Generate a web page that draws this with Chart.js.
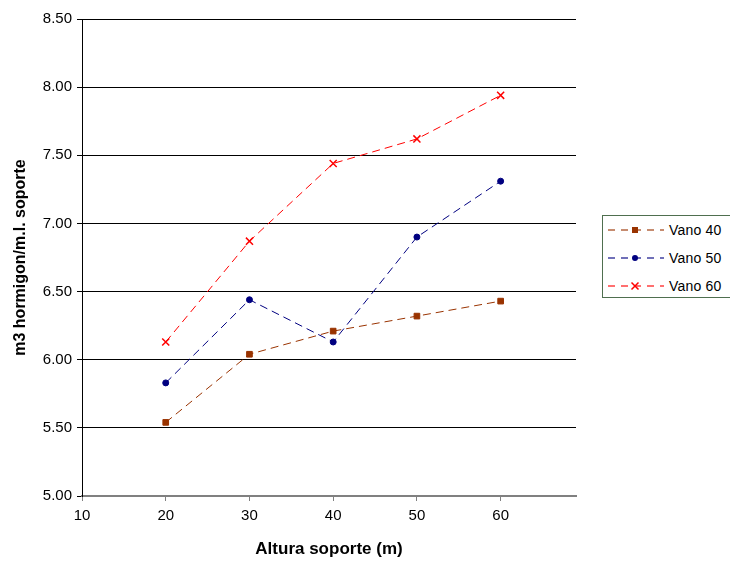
<!DOCTYPE html>
<html>
<head>
<meta charset="utf-8">
<script src="https://cdn.jsdelivr.net/npm/chart.js@4"></script>
<style>
  html, body { margin: 0; padding: 0; background: #ffffff; }
  #wrap { position: relative; width: 730px; height: 563px; overflow: hidden; }
  #legend { position: absolute; left: 602px; top: 215px; width: 140px; height: 83px;
            border: 1px solid #4f6f4f; background: #fff; box-sizing: border-box;
            font-family: "Liberation Sans", Arial, sans-serif; font-size: 14px; color: #000; }
  .row { position: absolute; left: 5px; height: 20px; display: flex; align-items: center; }
  .row svg { display: block; }
  .row span { margin-left: 5px; letter-spacing: 0.2px; }
</style>
</head>
<body>
<div id="wrap">
  <canvas id="c" width="730" height="563"></canvas>
  <div id="legend"></div>
</div>
<script>
const alturas = [20, 30, 40, 50, 60];
const vano40 = [5.54, 6.04, 6.21, 6.32, 6.43];
const vano50 = [5.83, 6.44, 6.13, 6.90, 7.31];
const vano60 = [6.13, 6.87, 7.44, 7.62, 7.94];
const seriesNames = ['Vano 40', 'Vano 50', 'Vano 60'];
const xTickValues = [10, 20, 30, 40, 50, 60];
const yTickValues = [5.0, 5.5, 6.0, 6.5, 7.0, 7.5, 8.0, 8.5];

const toPts = arr => alturas.map((x, i) => ({ x: x, y: arr[i] }));

const styles = [
  { line: '#993300', point: '#993300', shape: 'rect', r: 4 },
  { line: '#000080', point: '#000080', shape: 'circle', r: 3 },
  { line: '#FF0000', point: '#FF0000', shape: 'crossRot', r: 5 }
];
const allData = [vano40, vano50, vano60];

const datasets = allData.map((d, i) => ({
  label: seriesNames[i],
  data: toPts(d),
  borderColor: styles[i].line,
  borderWidth: 1,
  borderDash: [8, 5],
  pointStyle: styles[i].shape,
  pointRadius: styles[i].r,
  pointBackgroundColor: styles[i].point,
  pointBorderColor: styles[i].point,
  pointBorderWidth: styles[i].shape === 'crossRot' ? 1.5 : 1,
  tension: 0,
  fill: false
}));

new Chart(document.getElementById('c'), {
  type: 'line',
  data: { datasets },
  options: {
    responsive: false,
    animation: false,
    devicePixelRatio: 1,
    layout: { padding: { top: 19, right: 154, left: 0, bottom: 0 } },
    plugins: { legend: { display: false }, tooltip: { enabled: false } },
    scales: {
      x: {
        type: 'linear',
        min: 10,
        max: 69,
        afterBuildTicks: s => { s.ticks = xTickValues.map(v => ({ value: v })); },
        afterFit: s => { s.height = 67; },
        grid: { drawOnChartArea: false, tickLength: 5, color: '#808080', tickColor: '#808080' },
        border: { color: '#808080', width: 2 },
        ticks: { color: '#000', padding: 6, maxRotation: 0,
                 font: { family: '"Liberation Sans", Arial, sans-serif', size: 15 } },
        title: { display: true, text: 'Altura soporte (m)', color: '#000',
                 padding: { top: 0, bottom: 3 },
                 font: { family: '"Liberation Sans", Arial, sans-serif', size: 17, weight: 'bold' } }
      },
      y: {
        type: 'linear',
        min: 5,
        max: 8.5,
        afterBuildTicks: s => { s.ticks = yTickValues.map(v => ({ value: v })); },
        afterFit: s => { s.width = 82; },
        grid: {
          tickLength: 5,
          color: ctx => (ctx.tick && ctx.tick.value === 5) ? 'rgba(0,0,0,0)' : '#000000',
          tickColor: '#000000',
          lineWidth: 1
        },
        border: { color: '#000', width: 1 },
        ticks: { color: '#000', padding: 5,
                 callback: v => Number(v).toFixed(2),
                 font: { family: '"Liberation Sans", Arial, sans-serif', size: 15 } },
        title: { display: true, text: 'm3 hormigon/m.l. soporte', color: '#000',
                 padding: { top: 11, bottom: 0 },
                 font: { family: '"Liberation Sans", Arial, sans-serif', size: 16, weight: 'bold' } }
      }
    }
  }
});

// HTML legend
const legend = document.getElementById('legend');
const rowTops = [4, 32, 60];
function markerSvg(i) {
  const c = styles[i].point;
  if (styles[i].shape === 'rect') return `<rect x="24" y="6" width="6" height="6" fill="${c}"/>`;
  if (styles[i].shape === 'circle') return `<circle cx="27" cy="9" r="3" fill="${c}"/>`;
  return `<path d="M23.5 5.5 L30.5 12.5 M30.5 5.5 L23.5 12.5" stroke="${c}" stroke-width="1.5"/>`;
}
seriesNames.forEach((name, i) => {
  const row = document.createElement('div');
  row.className = 'row';
  row.style.top = rowTops[i] + 'px';
  row.innerHTML = `<svg width="56" height="18"><line x1="0" y1="9" x2="56" y2="9" stroke="${styles[i].line}" stroke-opacity="0.75" stroke-width="1.3" stroke-dasharray="7,6"/>${markerSvg(i)}</svg><span>${name}</span>`;
  legend.appendChild(row);
});
</script>
</body>
</html>
